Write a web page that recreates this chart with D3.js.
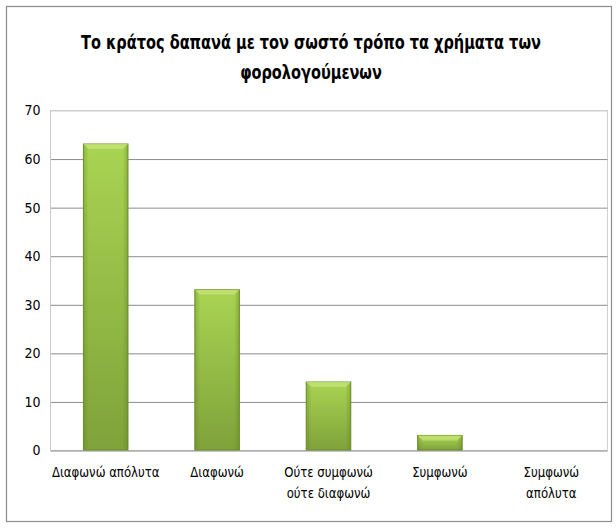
<!DOCTYPE html>
<html>
<head>
<meta charset="utf-8">
<script src="https://cdn.jsdelivr.net/npm/d3@7"></script>
<style>
  html, body { margin: 0; padding: 0; background: #fff; }
  svg text { font-family: "Liberation Sans Narrow", "DejaVu Sans Condensed", "Open Sans", sans-serif; }
</style>
</head>
<body>
<svg id="chart" width="616" height="529"></svg>
<script>
const categories = ["Διαφωνώ απόλυτα", "Διαφωνώ", "Ούτε συμφωνώ ούτε διαφωνώ", "Συμφωνώ", "Συμφωνώ απόλυτα"];
const categoryLines = [["Διαφωνώ απόλυτα"], ["Διαφωνώ"], ["Ούτε συμφωνώ", "ούτε διαφωνώ"], ["Συμφωνώ"], ["Συμφωνώ", "απόλυτα"]];
const values = [63, 33, 14, 3, 0];
const yTicks = [0, 10, 20, 30, 40, 50, 60, 70];
const titleLines = ["Το κράτος δαπανά με τον σωστό τρόπο τα χρήματα των", "φορολογούμενων"];

const svg = d3.select("#chart");
const plot = { left: 50, right: 607, top: 110, bottom: 450 };

// chart frame
svg.append("rect").attr("x", 6.5).attr("y", 6.5).attr("width", 605).attr("height", 515)
  .attr("fill", "#fff").attr("stroke", "#8c8c8c").attr("stroke-width", 1.2);

const defs = svg.append("defs");
const grad = defs.append("linearGradient").attr("id", "barFill").attr("x1", 0).attr("y1", 0).attr("x2", 0).attr("y2", 1);
grad.append("stop").attr("offset", "0%").attr("stop-color", "#a9d452");
grad.append("stop").attr("offset", "100%").attr("stop-color", "#7fa23a");
const side = defs.append("linearGradient").attr("id", "barSide").attr("x1", 0).attr("y1", 0).attr("x2", 1).attr("y2", 0);
side.append("stop").attr("offset", "0%").attr("stop-color", "#5f7d22").attr("stop-opacity", 0.35);
side.append("stop").attr("offset", "12%").attr("stop-color", "#5f7d22").attr("stop-opacity", 0);
side.append("stop").attr("offset", "88%").attr("stop-color", "#5f7d22").attr("stop-opacity", 0);
side.append("stop").attr("offset", "100%").attr("stop-color", "#5f7d22").attr("stop-opacity", 0.4);

const x = d3.scaleBand().domain(categories).range([plot.left, plot.right]).paddingInner(0.6).paddingOuter(0.3);
const y = d3.scaleLinear().domain([0, 70]).range([plot.bottom, plot.top]);

// plot area outline
svg.append("rect").attr("x", plot.left + 0.5).attr("y", plot.top + 0.5)
  .attr("width", plot.right - plot.left).attr("height", plot.bottom - plot.top)
  .attr("fill", "none").attr("stroke", "#d0d0d0");

// gridlines and value labels
const yAxis = d3.axisLeft(y).tickValues(yTicks).tickSize(-(plot.right - plot.left)).tickPadding(10);
const gy = svg.append("g").attr("transform", `translate(${plot.left + 0.5},0.5)`).call(yAxis);
gy.select(".domain").remove();
gy.selectAll(".tick line").attr("stroke", d => d === 70 ? "#d0d0d0" : "#8c8c8c");
gy.selectAll(".tick text").attr("font-size", 14).attr("fill", "#000");

// left axis line
svg.append("line").attr("x1", plot.left + 0.5).attr("x2", plot.left + 0.5)
  .attr("y1", plot.top).attr("y2", plot.bottom).attr("stroke", "#c8c8c8");

// bars
const bars = svg.append("g").selectAll("g").data(categories.map((c, i) => ({ c, v: values[i] })).filter(d => d.v > 0))
  .join("g");
bars.append("rect")
  .attr("x", d => x(d.c)).attr("y", d => y(d.v))
  .attr("width", x.bandwidth()).attr("height", d => y(0) - y(d.v))
  .attr("fill", "url(#barFill)").attr("stroke", "#6e8f2c").attr("stroke-width", 1);
bars.append("rect")
  .attr("x", d => x(d.c)).attr("y", d => y(d.v))
  .attr("width", x.bandwidth()).attr("height", d => y(0) - y(d.v))
  .attr("fill", "url(#barSide)");
// top bevel highlight
bars.append("path")
  .attr("d", d => {
    const x0 = x(d.c), x1 = x0 + x.bandwidth(), t = y(d.v), b = Math.min(5, (y(0) - t) / 2);
    return `M${x0},${t}L${x1},${t}L${x1 - b},${t + b}L${x0 + b},${t + b}Z`;
  })
  .attr("fill", "#c4e277").attr("opacity", 0.8);

// category labels, narrowed horizontally around their centres
const gx = svg.append("g");
categories.forEach((c, i) => {
  const cx = x(c) + x.bandwidth() / 2;
  const t = gx.append("text").attr("x", 0).attr("y", 477)
    .attr("transform", `translate(${cx},0) scale(0.93,1)`)
    .attr("text-anchor", "middle").attr("font-size", 14).attr("fill", "#000");
  categoryLines[i].forEach((line, j) => {
    t.append("tspan").attr("x", 0).attr("dy", j === 0 ? 0 : 21).text(line);
  });
});

// title, condensed so the first line spans about 460px
const titleG = svg.append("g");
const titleTexts = titleLines.map((line, i) =>
  titleG.append("text").attr("x", 0).attr("y", 49 + i * 30)
    .attr("text-anchor", "middle").attr("font-size", 19).attr("font-weight", "bold").attr("fill", "#000")
    .text(line));
const w0 = titleTexts[0].node().getComputedTextLength();
const sx = Math.min(1, 460 / w0);
titleG.attr("transform", `translate(311,0) scale(${sx},1)`);
</script>
</body>
</html>
